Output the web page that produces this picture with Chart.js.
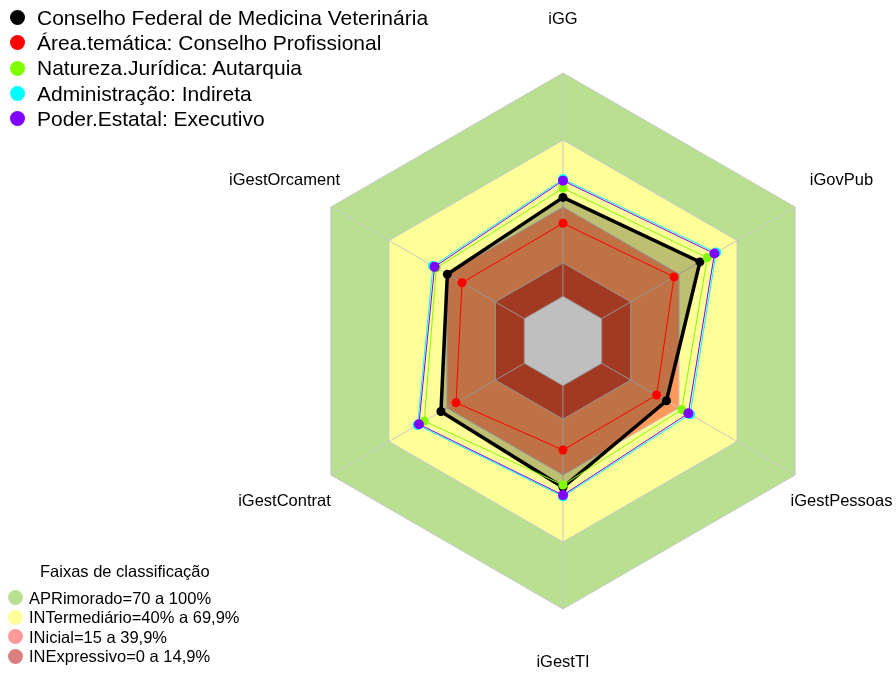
<!DOCTYPE html>
<html>
<head>
<meta charset="utf-8">
<script src="https://cdn.jsdelivr.net/npm/chart.js@4"></script>
<style>
  body { margin: 0; background: #fff; }
  #wrap { position: relative; width: 896px; height: 674px; font-family: "Liberation Sans", Arial, sans-serif; color: #000; }
  canvas { position: absolute; left: 0; top: 0; }
  .item { position: absolute; white-space: nowrap; }
  .dot { position: absolute; border-radius: 50%; }
</style>
</head>
<body>
<div id="wrap">
  <canvas id="radar" width="896" height="674"></canvas>
  <div id="legendSeries"></div>
  <div id="legendBands"></div>
</div>
<script>
// eixos do radar (sentido horário a partir do topo)
const indicadores = ["iGG", "iGovPub", "iGestPessoas", "iGestTI", "iGestContrat", "iGestOrcament"];

// séries comparadas
const nomesSeries = [
  "Conselho Federal de Medicina Veterinária",
  "Área.temática: Conselho Profissional",
  "Natureza.Jurídica: Autarquia",
  "Administração: Indireta",
  "Poder.Estatal: Executivo"
];
const coresSeries = ["#000000", "#ff0000", "#7fff00", "#00ffff", "#8000ff"];
const cfmv             = [44.3, 50.8, 33.5, 45.5, 43.1, 39.8];
const areaTematica     = [32.7, 37.4, 28.4, 28.8, 35.3, 32.2];
const naturezaJuridica = [48.4, 54.6, 41.4, 44.5, 51.7, 45.5];
const administracao    = [52.5, 59.2, 45.7, 49.6, 55.2, 47.2];
const poderEstatal     = [51.8, 58.3, 44.8, 49.0, 54.5, 46.4];
const valoresSeries = [cfmv, areaTematica, naturezaJuridica, administracao, poderEstatal];

// faixas de classificação (limite superior de cada faixa)
const faixasNomes = ["APRimorado=70 a 100%", "INTermediário=40% a 69,9%", "INicial=15 a 39,9%", "INExpressivo=0 a 14,9%"];
const faixasLimites = [100, 70, 40, 15];
const faixasCores = ["#b9e090", "#ffff99", "rgba(255,0,0,0.4)", "rgba(180,0,0,0.5)"];

const escalaMin = -20;
const escalaMax = 100;

const datasets = [];
faixasLimites.forEach((lim, i) => {
  datasets.push({
    label: faixasNomes[i],
    data: indicadores.map(() => lim),
    backgroundColor: faixasCores[i],
    borderColor: "#c8c8c8",
    borderWidth: 1,
    pointRadius: 0,
    fill: "start",
    order: 20 - i
  });
});
// miolo branco (abaixo de zero)
datasets.push({
  label: "centro",
  data: indicadores.map(() => 0),
  backgroundColor: "#ffffff",
  borderColor: "#c8c8c8",
  borderWidth: 1,
  pointRadius: 0,
  fill: "start",
  order: 15
});
valoresSeries.forEach((vals, i) => {
  datasets.push({
    label: nomesSeries[i],
    data: vals,
    borderColor: coresSeries[i],
    backgroundColor: i === 0 ? "rgba(0,0,0,0.25)" : coresSeries[i],
    pointBackgroundColor: coresSeries[i],
    pointBorderWidth: 0,
    pointRadius: i === 0 ? 4.5 : (i >= 3 ? 5 : 4.5),
    borderWidth: i === 0 ? 3.5 : 1,
    fill: i === 0 ? "start" : false,
    order: 10 - i
  });
});

const eixosPlugin = {
  id: "eixos",
  afterDatasetDraw(chart, args) {
    if (args.index !== faixasLimites.length) return;
    const r = chart.scales.r;
    const ctx = chart.ctx;
    ctx.save();
    ctx.strokeStyle = "#c8c8c8";
    ctx.lineWidth = 1;
    indicadores.forEach((_, i) => {
      const a = r.getPointPositionForValue(i, 0);
      const b = r.getPointPositionForValue(i, escalaMax);
      ctx.beginPath();
      ctx.moveTo(a.x, a.y);
      ctx.lineTo(b.x, b.y);
      ctx.stroke();
    });
    ctx.restore();
  },
  afterDraw(chart) {
    const r = chart.scales.r;
    const ctx = chart.ctx;
    const posRotulo = escalaMin + 1.2 * (escalaMax - escalaMin);
    ctx.save();
    ctx.font = '16.5px "Liberation Sans", Arial, sans-serif';
    ctx.fillStyle = "#000";
    ctx.textAlign = "center";
    ctx.textBaseline = "middle";
    indicadores.forEach((lab, i) => {
      const p = r.getPointPositionForValue(i, posRotulo);
      ctx.fillText(lab, p.x, p.y);
    });
    ctx.restore();
  }
};

new Chart(document.getElementById("radar"), {
  type: "radar",
  data: { labels: indicadores, datasets: datasets },
  options: {
    responsive: false,
    animation: false,
    layout: { padding: { top: 73, bottom: 65, left: 295, right: 65 } },
    plugins: { legend: { display: false }, tooltip: { enabled: false } },
    elements: { line: { tension: 0 } },
    scales: {
      r: {
        min: escalaMin,
        max: escalaMax,
        ticks: { display: false },
        grid: { display: false },
        angleLines: { display: false },
        pointLabels: { display: false }
      }
    }
  },
  plugins: [eixosPlugin]
});

// legendas
const legS = document.getElementById("legendSeries");
nomesSeries.forEach((nome, i) => {
  const y = 17.5 + i * 25.3;
  legS.insertAdjacentHTML("beforeend",
    `<span class="dot" style="left:10px;top:${y - 7.5}px;width:15px;height:15px;background:${coresSeries[i]}"></span>` +
    `<span class="item" style="left:37px;top:${y - 12.65}px;font-size:21px;line-height:25.3px">${nome}</span>`);
});
const legB = document.getElementById("legendBands");
legB.insertAdjacentHTML("beforeend",
  `<span class="item" style="left:40px;top:${571 - 10}px;font-size:16.5px;line-height:20px">Faixas de classificação</span>`);
faixasNomes.forEach((nome, i) => {
  const y = 597.5 + i * 19.6;
  legB.insertAdjacentHTML("beforeend",
    `<span class="dot" style="left:7.5px;top:${y - 7.5}px;width:15px;height:15px;background:${faixasCores[i]}"></span>` +
    `<span class="item" style="left:29px;top:${y - 10}px;font-size:16.5px;line-height:20px">${nome}</span>`);
});
</script>
</body>
</html>
